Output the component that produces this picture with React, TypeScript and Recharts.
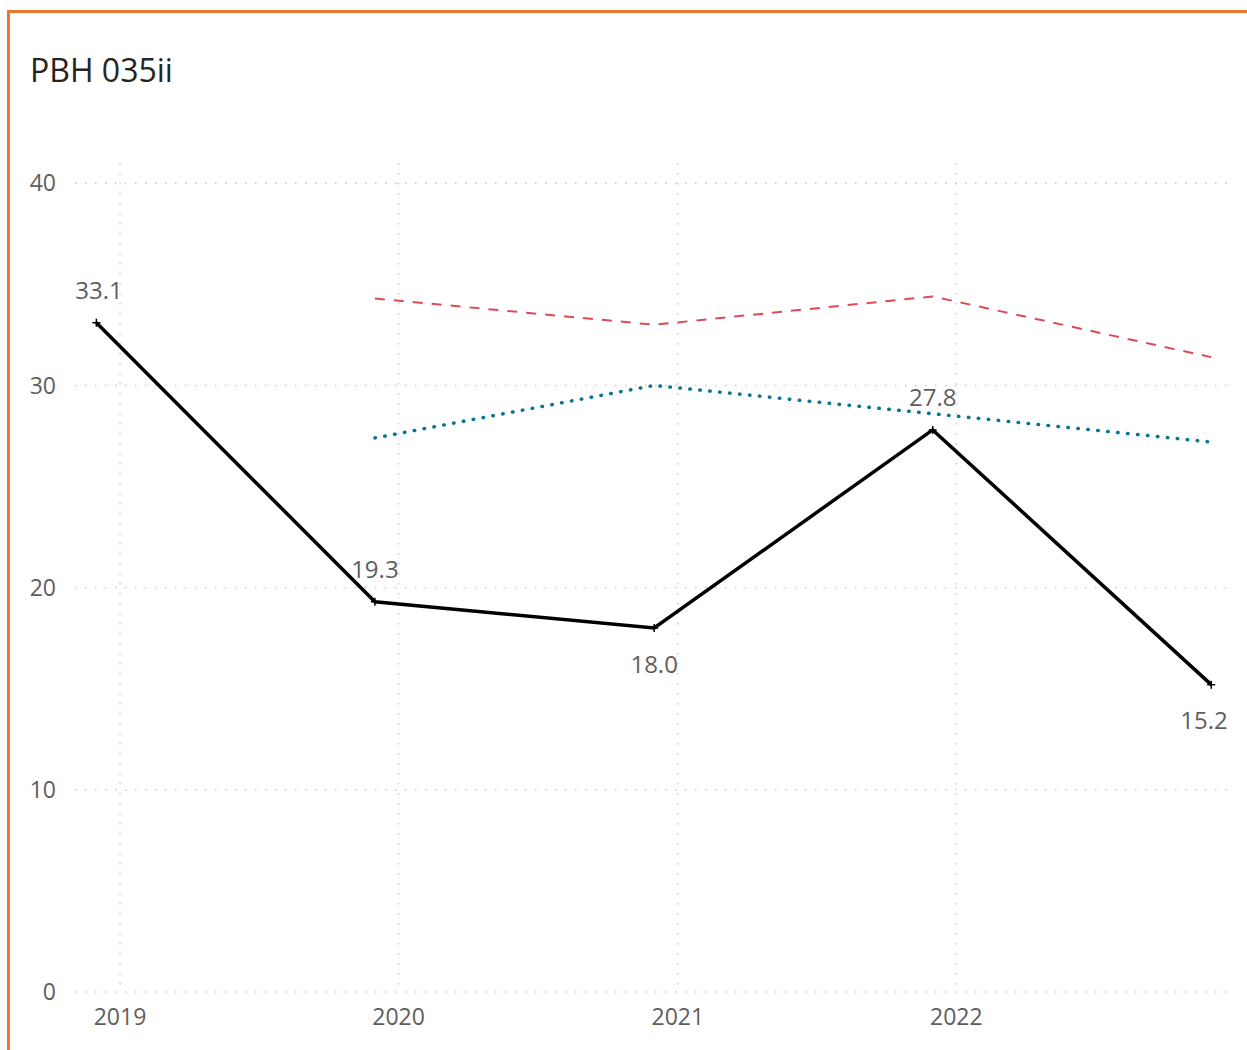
import React from "react";
import { LineChart, Line, XAxis, YAxis, CartesianGrid } from "recharts";

// values
const dates = ["2018-12-01", "2019-12-01", "2020-12-01", "2021-12-01", "2022-12-01"];
const actual = [33.1, 19.3, 18.0, 27.8, 15.2];
const upper = [null, 34.3, 33.0, 34.4, 31.4];
const lower = [null, 27.4, 30.0, 28.6, 27.2];
const yearTicks = ["2019-01-01", "2020-01-01", "2021-01-01", "2022-01-01"];
const xRange = ["2018-11-03", "2022-12-23"];
const yTicks = [0, 10, 20, 30, 40];
const yMax = 41;

const toTime = (d: string) => new Date(d + "T00:00:00Z").getTime();

const data = dates.map((d, i) => ({
  t: toTime(d),
  actual: actual[i],
  upper: upper[i],
  lower: lower[i],
}));

const FONT = "'Segoe UI', 'Open Sans', sans-serif";
const GREY = "#605E5C";
const W = 1247;
const H = 1050;
const MARGIN = { top: 163, right: 19, left: 15, bottom: 18 };
const Y_W = 60;
const X_H = 40;
const PLOT_L = MARGIN.left + Y_W;
const PLOT_R = W - MARGIN.right;
const LABEL_SIZE = 24;

const plotBox = (offset: any) =>
  offset && offset.width
    ? offset
    : { left: PLOT_L, top: MARGIN.top, width: PLOT_R - PLOT_L, height: H - MARGIN.top - MARGIN.bottom - X_H };

// grid only at the tick values, not at the plot edges
const hLines = ({ yAxis, offset }: any) => {
  if (yAxis && typeof yAxis.scale === "function") return yTicks.map((v) => yAxis.scale(v));
  const b = plotBox(offset);
  return yTicks.map((v) => b.top + b.height * (1 - v / yMax));
};
const vLines = ({ xAxis, offset }: any) => {
  if (xAxis && typeof xAxis.scale === "function") return yearTicks.map((d) => xAxis.scale(toTime(d)));
  const b = plotBox(offset);
  const [a, z] = xRange.map(toTime);
  return yearTicks.map((d) => b.left + (b.width * (toTime(d) - a)) / (z - a));
};

const PlusDot = (props: any) => {
  const { cx, cy } = props;
  if (cx == null || cy == null) return null;
  return (
    <path
      d={`M${cx - 4},${cy}H${cx + 4}M${cx},${cy - 4}V${cy + 4}`}
      stroke="#000"
      strokeWidth={1.5}
      fill="none"
    />
  );
};

const ValueLabel = (props: any) => {
  const { x, y, value, index } = props;
  if (value == null) return null;
  const prev = index > 0 ? actual[index - 1] : null;
  const next = index < actual.length - 1 ? actual[index + 1] : null;
  // put the label under a dip, above otherwise
  const below = prev != null && value < prev && (next == null || value < next);
  const txt = value.toFixed(1);
  const half = (txt.length * 0.5 * LABEL_SIZE) / 2;
  // keep labels inside the plot area
  const cx = Math.min(Math.max(x, PLOT_L + half), PLOT_R - half);
  return (
    <text
      x={cx}
      y={below ? y + 35 : y - 33}
      textAnchor="middle"
      dominantBaseline="central"
      fill={GREY}
      fontSize={LABEL_SIZE}
      fontFamily={FONT}
    >
      {txt}
    </text>
  );
};

export default function App() {
  return (
    <div style={{ position: "absolute", left: 0, top: 0, width: W, height: H, background: "#fff" }}>
      <div
        style={{
          position: "absolute",
          left: 7,
          top: 10,
          width: 1240,
          height: 1040,
          borderLeft: "3px solid #E8782A",
          borderTop: "3px solid #E8782A",
          boxSizing: "border-box",
        }}
      />
      <div
        style={{
          position: "absolute",
          left: 30,
          top: 54,
          fontFamily: FONT,
          fontSize: 32,
          lineHeight: 1,
          color: "#252423",
          whiteSpace: "nowrap",
        }}
      >
        PBH 035ii
      </div>
      <div style={{ position: "absolute", left: 0, top: 0 }}>
        <LineChart width={W} height={H} data={data} margin={MARGIN}>
          <CartesianGrid
            stroke="#c8c8c8"
            strokeWidth={1.5}
            strokeDasharray="1.5 8.5"
            horizontalCoordinatesGenerator={hLines}
            verticalCoordinatesGenerator={vLines}
          />
          <XAxis
            dataKey="t"
            type="number"
            scale="time"
            domain={xRange.map(toTime)}
            ticks={yearTicks.map(toTime)}
            tickFormatter={(v: number) => String(new Date(v).getUTCFullYear())}
            axisLine={false}
            tickLine={false}
            tickSize={0}
            tickMargin={17}
            height={X_H}
            allowDataOverflow
            tick={{ fill: GREY, fontSize: 23, fontFamily: FONT }}
          />
          <YAxis
            domain={[0, yMax]}
            ticks={yTicks}
            axisLine={false}
            tickLine={false}
            tickSize={0}
            tickMargin={19}
            width={Y_W}
            tick={{ fill: GREY, fontSize: 23, fontFamily: FONT }}
          />
          <Line
            dataKey="upper"
            stroke="#DC4B55"
            strokeWidth={2}
            strokeDasharray="10 9"
            dot={false}
            activeDot={false}
            isAnimationActive={false}
          />
          <Line
            dataKey="lower"
            stroke="#0A7590"
            strokeWidth={3.5}
            strokeDasharray="0.5 9.5"
            strokeLinecap="round"
            dot={false}
            activeDot={false}
            isAnimationActive={false}
          />
          <Line
            dataKey="actual"
            stroke="#000"
            strokeWidth={3.5}
            dot={<PlusDot />}
            activeDot={false}
            label={<ValueLabel />}
            isAnimationActive={false}
          />
        </LineChart>
      </div>
    </div>
  );
}
